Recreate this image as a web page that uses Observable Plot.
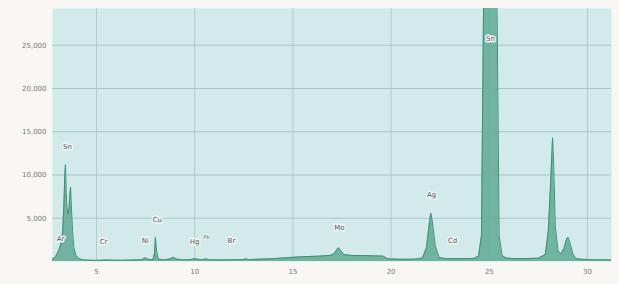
<!DOCTYPE html>
<html>
<head>
<meta charset="utf-8">
<script src="https://cdn.jsdelivr.net/npm/d3@7"></script>
<script src="https://cdn.jsdelivr.net/npm/@observablehq/plot@0.6"></script>
<style>
  html, body { margin: 0; padding: 0; background: #f8f7f4; }
  #chart { width: 619px; height: 284px; }
</style>
</head>
<body>
<div id="chart"></div>
<script>
// Spectrum: energy (keV) and counts
const energy = [2.76, 2.9, 3.0, 3.1, 3.2, 3.28, 3.34, 3.38, 3.42, 3.46, 3.5, 3.55, 3.6, 3.64, 3.68, 3.72, 3.78, 3.85, 3.95, 4.1, 4.3, 4.6, 5.0, 5.4, 5.5, 5.6, 6.0, 6.4, 6.9, 7.3, 7.42, 7.5, 7.58, 7.75, 7.88, 7.95, 8.0, 8.06, 8.14, 8.4, 8.75, 8.9, 9.05, 9.4, 9.8, 9.98, 10.1, 10.3, 10.5, 10.6, 10.75, 11.3, 11.9, 12.45, 12.6, 12.75, 13.2, 14.0, 14.8, 15.5, 16.3, 16.9, 17.1, 17.25, 17.32, 17.42, 17.6, 18.0, 18.6, 19.2, 19.6, 19.8, 20.0, 20.6, 21.2, 21.6, 21.8, 21.95, 22.02, 22.1, 22.25, 22.45, 22.8, 23.2, 23.7, 24.2, 24.45, 24.6, 24.7, 24.8, 25.05, 25.3, 25.4, 25.5, 25.65, 25.85, 26.3, 26.9, 27.5, 27.85, 28.0, 28.12, 28.22, 28.28, 28.36, 28.5, 28.65, 28.8, 28.92, 29.0, 29.1, 29.25, 29.4, 29.7, 30.3, 31.22];
const counts = [300, 500, 900, 1400, 2200, 3500, 6500, 9500, 11200, 8000, 6200, 5500, 6000, 7500, 8600, 6500, 3500, 1600, 700, 350, 200, 150, 130, 160, 200, 160, 140, 150, 170, 200, 350, 420, 300, 200, 250, 900, 2800, 1200, 300, 180, 300, 500, 300, 180, 220, 320, 280, 200, 250, 300, 200, 180, 200, 220, 300, 220, 260, 330, 450, 550, 620, 700, 900, 1400, 1600, 1300, 800, 700, 680, 650, 620, 350, 280, 260, 270, 400, 1600, 4500, 5600, 4600, 1800, 450, 330, 320, 330, 350, 600, 3000, 28000, 45000, 55000, 45000, 28000, 3000, 700, 400, 330, 340, 380, 800, 3500, 9000, 14300, 11000, 4000, 1200, 900, 1500, 2500, 2800, 2200, 900, 350, 250, 200, 180];

// Element labels
const labelNames = ["Sn", "Ar", "Cr", "Ni", "Cu", "Hg", "Br", "Mo", "Ag", "Cd", "Sn"];
const labelEnergy = [3.52, 3.17, 5.36, 7.49, 8.1, 9.99, 11.87, 17.37, 22.06, 23.13, 25.06];
const labelCounts = [13300, 2660, 2310, 2430, 4860, 2310, 2430, 3930, 7750, 2430, 25780];
const smallLabelNames = ["Pb"];
const smallLabelEnergy = [10.6];
const smallLabelCounts = [2770];

const xTicks = [5, 10, 15, 20, 25, 30];
const yTicks = [5000, 10000, 15000, 20000, 25000];

const spectrum = energy.map((e, i) => ({energy: e, counts: counts[i]}));
const labels = labelNames.map((n, i) => ({name: n, energy: labelEnergy[i], counts: labelCounts[i]}));
const smallLabels = smallLabelNames.map((n, i) => ({name: n, energy: smallLabelEnergy[i], counts: smallLabelCounts[i]}));

const fmt = d3.format(",");

const chart = Plot.plot({
  width: 619,
  height: 284,
  marginLeft: 52,
  marginRight: 8,
  marginTop: 8,
  marginBottom: 23,
  style: {background: "#f8f7f4", fontFamily: "DejaVu Sans, sans-serif", fontSize: "7px", color: "#777"},
  x: {domain: [2.76, 31.22], ticks: xTicks, tickSize: 0, tickPadding: 8, label: null},
  y: {domain: [0, 29250], ticks: yTicks, tickSize: 0, tickPadding: 6, tickFormat: fmt, label: null},
  marks: [
    Plot.frame({fill: "#d3eaeb", stroke: "#e4efee"}),
    Plot.gridX(xTicks, {stroke: "#9dbfc3", strokeOpacity: 0.7}),
    Plot.gridY(yTicks, {stroke: "#9bbcbf", strokeOpacity: 0.8}),
    Plot.areaY(spectrum, {x: "energy", y: "counts", fill: "#66ae99", fillOpacity: 0.92, clip: true}),
    Plot.lineY(spectrum, {x: "energy", y: "counts", stroke: "#3f8f78", strokeWidth: 1, clip: true}),
    Plot.text(labels, {x: "energy", y: "counts", text: "name", fill: "#555", stroke: "#eef6f5", strokeWidth: 3, fontSize: 7}),
    Plot.text(smallLabels, {x: "energy", y: "counts", text: "name", fill: "#555", stroke: "#eef6f5", strokeWidth: 2, fontSize: 5}),
    Plot.axisX({ticks: xTicks, tickSize: 0, tickPadding: 8, fill: "#777", label: null}),
    Plot.axisY({ticks: yTicks, tickSize: 0, tickPadding: 6, tickFormat: fmt, fill: "#777", label: null})
  ]
});
document.getElementById("chart").appendChild(chart);
</script>
</body>
</html>
